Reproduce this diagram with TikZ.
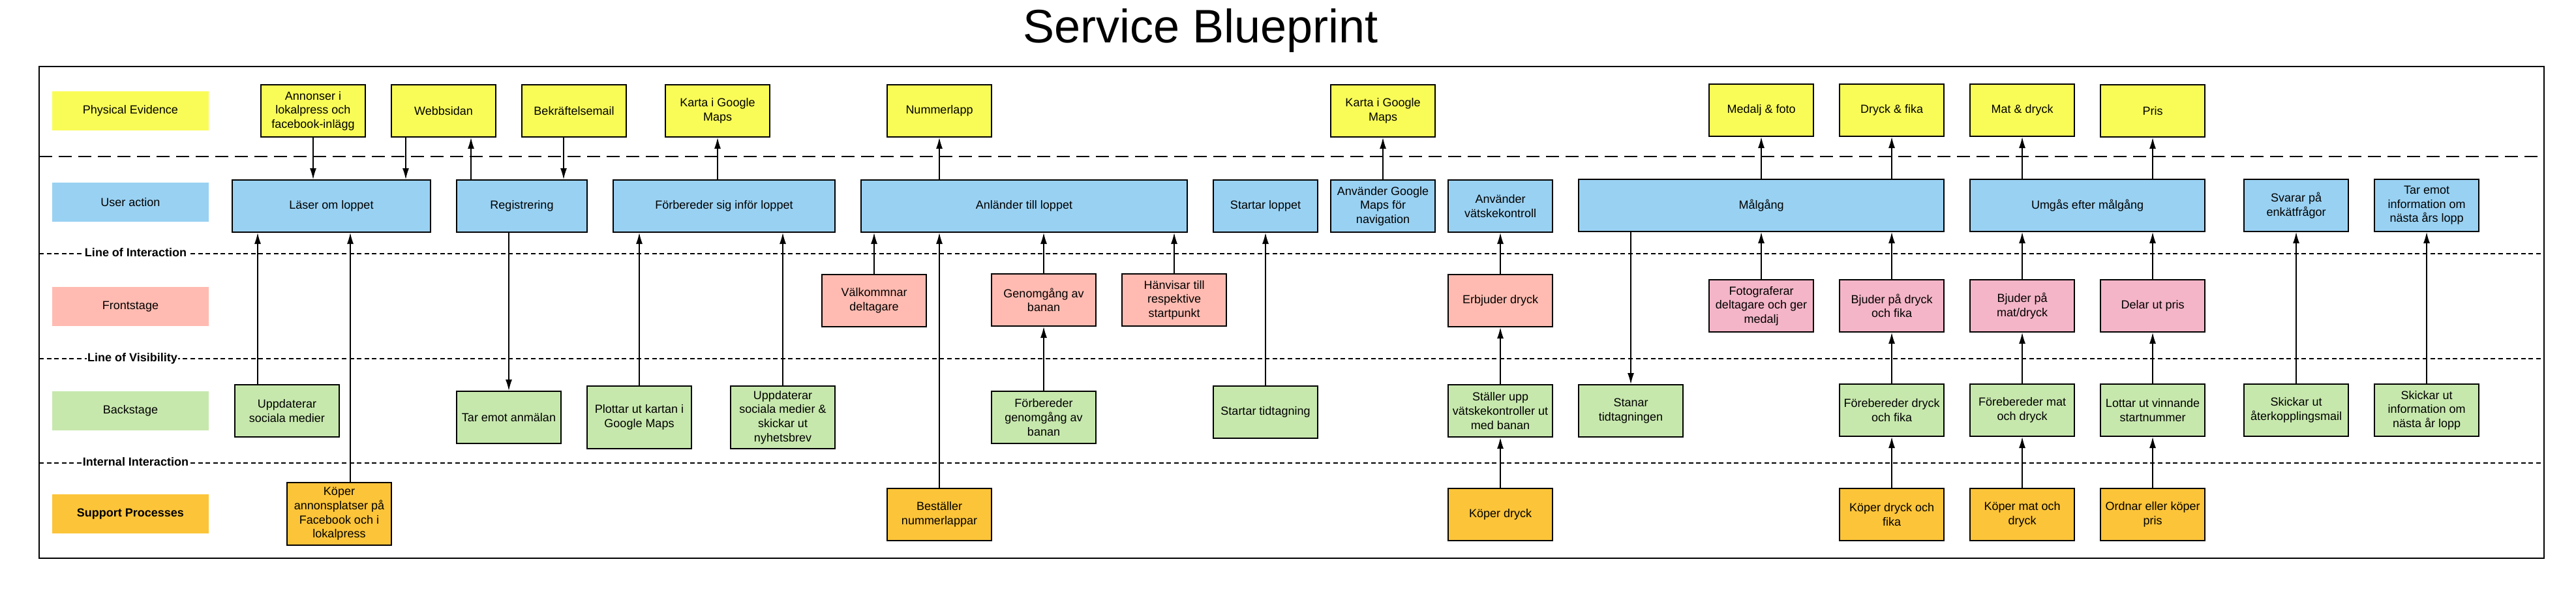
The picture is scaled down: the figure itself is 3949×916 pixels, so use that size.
\documentclass[tikz,border=0pt]{standalone}
\usepackage{fontspec}
\setmainfont{Liberation Sans}
\usetikzlibrary{arrows.meta}
\definecolor{ye}{HTML}{F9FC57}
\definecolor{bl}{HTML}{99D1F2}
\definecolor{sa}{HTML}{FFBBB1}
\definecolor{pk}{HTML}{F4B5C8}
\definecolor{gr}{HTML}{C7E8AD}
\definecolor{og}{HTML}{FCC439}
\begin{document}
\begin{tikzpicture}[x=0.5pt,y=-0.5pt,
  every node/.style={font=\fontsize{9}{10.8}\selectfont},
  bx/.style={draw=black, line width=1pt, rectangle, align=center, minimum width=80pt, minimum height=40pt, inner sep=1pt},
  lab/.style={rectangle, minimum width=120pt, minimum height=30pt, align=center, inner sep=1pt},
  arr/.style={line width=0.7pt, -{Latex[length=8.5pt,width=5pt]}},
  sepline/.style={line width=0.7pt, dash pattern=on 3.5pt off 2.3pt},
  seplab/.style={fill=white, font=\bfseries\fontsize{9}{10.8}\selectfont, inner sep=0.6pt, anchor=base},
  thickdash/.style={line width=1.2pt, dash pattern=on 10pt off 5pt}
]
\useasboundingbox (0,0) rectangle (3949,916);

% title
\node[font=\fontsize{36}{43}\selectfont, anchor=base] (title) at (1841,65) {Service Blueprint};

% frame and separators
\draw[line width=0.75pt] (60,102) rectangle (3900,856);
\draw[thickdash] (60,240) -- (3900,240);
\draw[sepline] (60,389) -- (3900,389);
\draw[sepline] (60,550) -- (3900,550);
\draw[sepline] (60,710) -- (3900,710);
\node[seplab] (loi) at (208,393.5) {Line of Interaction};
\node[seplab] (lov) at (203,554.5) {Line of Visibility};
\node[seplab] (lii) at (208,714.5) {Internal Interaction};

% row labels
\node[lab, fill=ye] (lpe) at (200,170) {Physical Evidence};
\node[lab, fill=bl] (lua) at (200,310) {User action};
\node[lab, fill=sa] (lfs) at (200,470) {Frontstage};
\node[lab, fill=gr] (lbs) at (200,630) {Backstage};
\node[lab, fill=og, font=\bfseries\fontsize{9}{10.8}\selectfont] (lsp) at (200,788) {Support Processes};

% physical evidence
\node[bx, fill=ye] (pe1) at (480,170) {Annonser i\\lokalpress och\\facebook-inlägg};
\node[bx, fill=ye] (pe2) at (680,170) {Webbsidan};
\node[bx, fill=ye] (pe3) at (880,170) {Bekräftelsemail};
\node[bx, fill=ye] (pe4) at (1100,170) {Karta i Google\\Maps};
\node[bx, fill=ye] (pe5) at (1440,170) {Nummerlapp};
\node[bx, fill=ye] (pe6) at (2120,170) {Karta i Google\\Maps};
\node[bx, fill=ye] (pe7) at (2700,169) {Medalj \& foto};
\node[bx, fill=ye] (pe8) at (2900,169) {Dryck \& fika};
\node[bx, fill=ye] (pe9) at (3100,169) {Mat \& dryck};
\node[bx, fill=ye] (pe10) at (3300,170) {Pris};

% user actions
\node[bx, fill=bl, minimum width=152pt] (ua1) at (508,316) {Läser om loppet};
\node[bx, fill=bl, minimum width=100pt] (ua2) at (800,316) {Registrering};
\node[bx, fill=bl, minimum width=170pt] (ua3) at (1110,316) {Förbereder sig inför loppet};
\node[bx, fill=bl, minimum width=250pt] (ua4) at (1570,316) {Anländer till loppet};
\node[bx, fill=bl] (ua5) at (1940,316) {Startar loppet};
\node[bx, fill=bl] (ua6) at (2120,316) {Använder Google\\Maps för\\navigation};
\node[bx, fill=bl] (ua7) at (2300,316) {Använder\\vätskekontroll};
\node[bx, fill=bl, minimum width=280pt] (ua8) at (2700,315) {Målgång};
\node[bx, fill=bl, minimum width=180pt] (ua9) at (3200,315) {Umgås efter målgång};
\node[bx, fill=bl] (ua10) at (3520,315) {Svarar på\\enkätfrågor};
\node[bx, fill=bl] (ua11) at (3720,315) {Tar emot\\information om\\nästa års lopp};

% frontstage
\node[bx, fill=sa] (fs1) at (1340,461) {Välkommnar\\deltagare};
\node[bx, fill=sa] (fs2) at (1600,460) {Genomgång av\\banan};
\node[bx, fill=sa] (fs3) at (1800,460) {Hänvisar till\\respektive\\startpunkt};
\node[bx, fill=sa] (fs4) at (2300,461) {Erbjuder dryck};
\node[bx, fill=pk] (fs5) at (2700,469) {Fotograferar\\deltagare och ger\\medalj};
\node[bx, fill=pk] (fs6) at (2900,469) {Bjuder på dryck\\och fika};
\node[bx, fill=pk] (fs7) at (3100,469) {Bjuder på\\mat/dryck};
\node[bx, fill=pk] (fs8) at (3300,469) {Delar ut pris};

% backstage
\node[bx, fill=gr] (bs1) at (440,630) {Uppdaterar\\sociala medier};
\node[bx, fill=gr] (bs2) at (780,640) {Tar emot anmälan};
\node[bx, fill=gr, minimum height=48pt] (bs3) at (980,640) {Plottar ut kartan i\\Google Maps};
\node[bx, fill=gr, minimum height=48pt] (bs4) at (1200,640) {Uppdaterar\\sociala medier \&\\skickar ut\\nyhetsbrev};
\node[bx, fill=gr] (bs5) at (1600,640) {Förbereder\\genomgång av\\banan};
\node[bx, fill=gr] (bs6) at (1940,632) {Startar tidtagning};
\node[bx, fill=gr] (bs7) at (2300,630) {Ställer upp\\vätskekontroller ut\\med banan};
\node[bx, fill=gr] (bs8) at (2500,630) {Stanar\\tidtagningen};
\node[bx, fill=gr] (bs9) at (2900,629) {Förebereder dryck\\och fika};
\node[bx, fill=gr] (bs10) at (3100,629) {Förebereder mat\\och dryck};
\node[bx, fill=gr] (bs11) at (3300,629) {Lottar ut vinnande\\startnummer};
\node[bx, fill=gr] (bs12) at (3520,629) {Skickar ut\\återkopplingsmail};
\node[bx, fill=gr] (bs13) at (3720,629) {Skickar ut\\information om\\nästa år lopp};

% support processes
\node[bx, fill=og, minimum height=48pt] (sp1) at (520,788) {Köper\\annonsplatser på\\Facebook och i\\lokalpress};
\node[bx, fill=og] (sp2) at (1440,789) {Beställer\\nummerlappar};
\node[bx, fill=og] (sp3) at (2300,789) {Köper dryck};
\node[bx, fill=og] (sp4) at (2900,789) {Köper dryck och\\fika};
\node[bx, fill=og] (sp5) at (3100,789) {Köper mat och\\dryck};
\node[bx, fill=og] (sp6) at (3300,789) {Ordnar eller köper\\pris};

% connectors: physical evidence <-> user action
\draw[arr] (pe1.south) -- (pe1.south |- ua1.north);
\draw[arr] ([xshift=-29pt]pe2.south) -- ([xshift=-29pt]pe2.south |- ua1.north);
\draw[arr] ([xshift=-39pt]ua2.north) -- ([xshift=-39pt]ua2.north |- pe2.south);
\draw[arr] ([xshift=-8pt]pe3.south) -- ([xshift=-8pt]pe3.south |- ua2.north);
\draw[arr] (ua3.north -| pe4.south) -- (pe4.south);
\draw[arr] (ua4.north -| pe5.south) -- (pe5.south);
\draw[arr] (ua6.north) -- (pe6.south);
\draw[arr] (ua8.north -| pe7.south) -- (pe7.south);
\draw[arr] (ua8.north -| pe8.south) -- (pe8.south);
\draw[arr] (ua9.north -| pe9.south) -- (pe9.south);
\draw[arr] (ua9.north -| pe10.south) -- (pe10.south);

% connectors below user actions
\draw[arr] ([xshift=-22.5pt]bs1.north) -- ([xshift=-22.5pt]bs1.north |- ua1.south);
\draw[arr] ([xshift=8.5pt]sp1.north) -- ([xshift=8.5pt]sp1.north |- ua1.south);
\draw[arr] (bs2.north |- ua2.south) -- (bs2.north);
\draw[arr] (bs3.north) -- (bs3.north |- ua3.south);
\draw[arr] (bs4.north) -- (bs4.north |- ua3.south);
\draw[arr] (fs1.north) -- (fs1.north |- ua4.south);
\draw[arr] (sp2.north) -- (sp2.north |- ua4.south);
\draw[arr] (fs2.north) -- (fs2.north |- ua4.south);
\draw[arr] (fs3.north) -- (fs3.north |- ua4.south);
\draw[arr] (bs5.north) -- (fs2.south);
\draw[arr] (bs6.north) -- (ua5.south);
\draw[arr] (fs4.north) -- (ua7.south);
\draw[arr] (bs7.north) -- (fs4.south);
\draw[arr] (sp3.north) -- (bs7.south);
\draw[arr] (ua8.south -| bs8.north) -- (bs8.north);
\draw[arr] (fs5.north) -- (ua8.south -| fs5.north);
\draw[arr] (fs6.north) -- (ua8.south -| fs6.north);
\draw[arr] (bs9.north) -- (fs6.south);
\draw[arr] (sp4.north) -- (bs9.south);
\draw[arr] (fs7.north) -- (ua9.south -| fs7.north);
\draw[arr] (bs10.north) -- (fs7.south);
\draw[arr] (sp5.north) -- (bs10.south);
\draw[arr] (fs8.north) -- (ua9.south -| fs8.north);
\draw[arr] (bs11.north) -- (fs8.south);
\draw[arr] (sp6.north) -- (bs11.south);
\draw[arr] (bs12.north) -- (ua10.south);
\draw[arr] (bs13.north) -- (ua11.south);
\end{tikzpicture}
\end{document}
